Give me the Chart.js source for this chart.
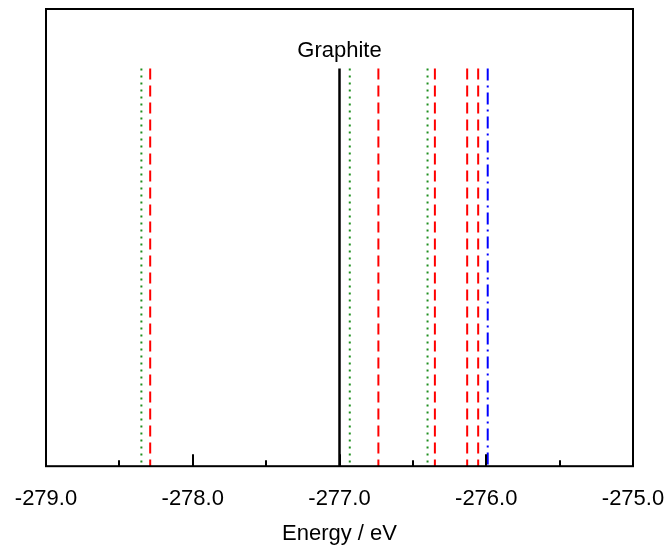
<!DOCTYPE html>
<html>
<head>
<meta charset="utf-8">
<script src="https://cdn.jsdelivr.net/npm/chart.js@4.4.0/dist/chart.umd.min.js"></script>
<style>
  html, body { margin: 0; padding: 0; background: #fff; }
  #wrap { width: 670px; height: 547px; }
</style>
</head>
<body>
<div id="wrap"><canvas id="plot"></canvas></div>
<script>
// energies (eV)
const blackEnergies = [-277.0];
const greenEnergies = [-278.35, -276.93, -276.40];
const redEnergies = [-278.29, -276.735, -276.35, -276.13, -276.055];
const blueEnergies = [-275.99];
const lineTop = 0.87;
const labelText = "Graphite";
const labelEnergy = -277.0;
const xTicks = [-279, -278, -277, -276, -275];

const FONT = "'Liberation Sans', Arial, sans-serif";

function stick(x, color, width, dash) {
	return {
		data: [{ x: x, y: lineTop }, { x: x, y: 0 }],
		showLine: true,
		borderColor: color,
		borderWidth: width,
		borderDash: dash,
		borderCapStyle: "butt",
		pointRadius: 0,
		fill: false
	};
}

const datasets = [];
greenEnergies.forEach(e => datasets.push(stick(e, "#1f8f1f", 2, [2, 5])));
redEnergies.forEach(e => datasets.push(stick(e, "#ff0000", 2, [11, 6])));
blueEnergies.forEach(e => datasets.push(stick(e, "#0000ff", 2, [12, 5, 2, 5])));
blackEnergies.forEach(e => datasets.push(stick(e, "#000000", 2.5, [])));

// frame, inward ticks and the label
const framePlugin = {
	id: "frame",
	afterDatasetsDraw(chart) {
		const ctx = chart.ctx;
		const a = chart.chartArea;
		const xs = chart.scales.x;
		const ys = chart.scales.y;
		ctx.save();
		ctx.strokeStyle = "#000";
		ctx.lineWidth = 2;
		ctx.strokeRect(a.left, a.top, a.right - a.left, a.bottom - a.top);
		for (let v = -279; v <= -275.001; v += 0.5) {
			const px = Math.round(xs.getPixelForValue(v));
			const major = Math.abs(v - Math.round(v)) < 0.01;
			const len = major ? 12 : 6;
			ctx.beginPath();
			ctx.moveTo(px, a.bottom);
			ctx.lineTo(px, a.bottom - len);
			ctx.stroke();
		}
		ctx.fillStyle = "#000";
		ctx.font = "22px " + FONT;
		ctx.textAlign = "center";
		ctx.textBaseline = "alphabetic";
		ctx.fillText(labelText, xs.getPixelForValue(labelEnergy), ys.getPixelForValue(0.895));
		ctx.restore();
	}
};

const ctxPlot = document.getElementById("plot").getContext("2d");
new Chart(ctxPlot, {
	type: "scatter",
	data: { datasets },
	options: {
		responsive: true,
		maintainAspectRatio: false,
		animation: false,
		layout: { padding: { left: 46, right: 37, top: 9, bottom: 0 } },
		plugins: { legend: { display: false }, tooltip: { enabled: false } },
		scales: {
			x: {
				type: "linear",
				min: -279,
				max: -275,
				afterBuildTicks: scale => { scale.ticks = xTicks.map(v => ({ value: v })); },
				grid: {
					display: true,
					drawOnChartArea: false,
					drawTicks: true,
					tickLength: 20,
					color: "rgba(0,0,0,0)"
				},
				border: { display: false },
				ticks: {
					padding: 0,
					color: "#000",
					font: { family: FONT, size: 22 },
					callback: v => v.toFixed(1)
				},
				title: {
					display: true,
					text: "Energy / eV",
					color: "#000",
					font: { family: FONT, size: 22 },
					padding: { top: 8, bottom: 0 }
				}
			},
			y: {
				display: false,
				min: 0,
				max: 1
			}
		}
	},
	plugins: [framePlugin]
});
</script>
</body>
</html>
